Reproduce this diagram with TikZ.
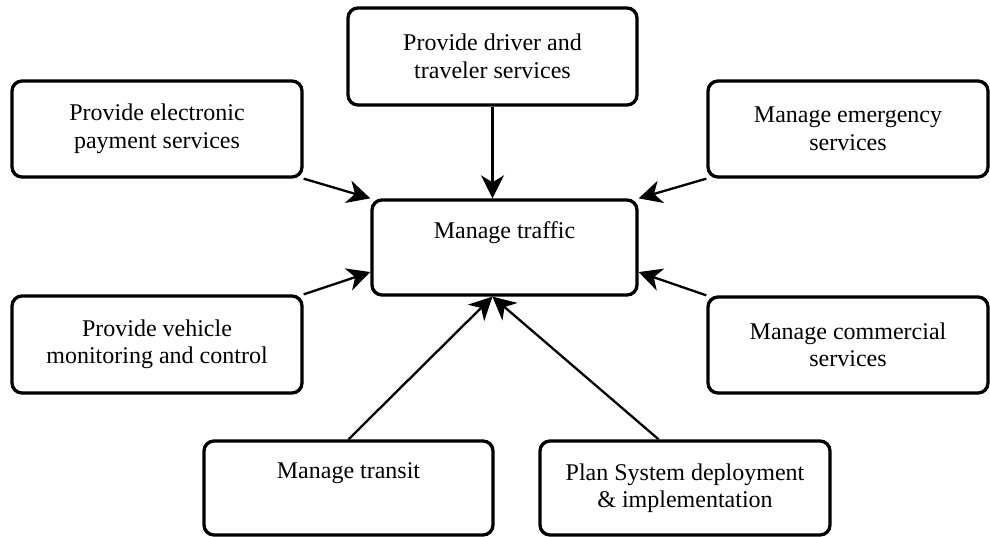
\documentclass[tikz,border=0pt]{standalone}
\usepackage{fontspec}
\setmainfont{Liberation Serif}
\usetikzlibrary{arrows.meta,calc}

\begin{document}
\begin{tikzpicture}[x=1pt,y=-1pt,
  task/.style={draw, line width=3.3pt, rounded corners=10pt, align=center,
    inner sep=0pt, minimum width=290pt, minimum height=96pt,
    font=\fontsize{24}{27.5}\selectfont},
  link/.style={line width=2.3pt, -{Stealth[length=23pt,width=23pt,inset=7pt]}}]
\useasboundingbox (0,0) rectangle (990,536);
\node[task, minimum width=289pt, minimum height=97pt] (driver) at (492.5,56.5) {Provide driver and\\traveler services};
\node[task] (payment) at (157,129) {Provide electronic\\payment services};
\node[task, minimum width=280pt] (emergency) at (848,129) {Manage emergency\\services};
\node[task, minimum width=265pt, minimum height=95pt] (traffic) at (504.5,247.5) {Manage traffic\\\strut};
\node[task, minimum height=97pt] (vehicle) at (157,344.5) {Provide vehicle\\monitoring and control};
\node[task, minimum width=280pt] (commercial) at (848,345) {Manage commercial\\services};
\node[task, minimum width=289pt, minimum height=94pt] (transit) at (348.5,488) {Manage transit\\\strut};
\node[task, minimum height=94pt] (deploy) at (685,488) {Plan System deployment\\\& implementation};
\coordinate (hub) at ($(traffic.south west)!0.455!(traffic.south east)$);
\draw[link] (driver.south) -- (traffic.north -| driver.south);
\draw[link] (payment.south east) -- (traffic.north west);
\draw[link] (vehicle.north east) -- ($(traffic.south west)!0.25!(traffic.north west)$);
\draw[link] (emergency.south west) -- (traffic.north east);
\draw[link] (commercial.north west) -- ($(traffic.south east)!0.25!(traffic.north east)$);
\draw[link] (transit.north) -- (hub);
\draw[link] ($(deploy.north west)!0.41!(deploy.north east)$) -- (hub);
\end{tikzpicture}
\end{document}
